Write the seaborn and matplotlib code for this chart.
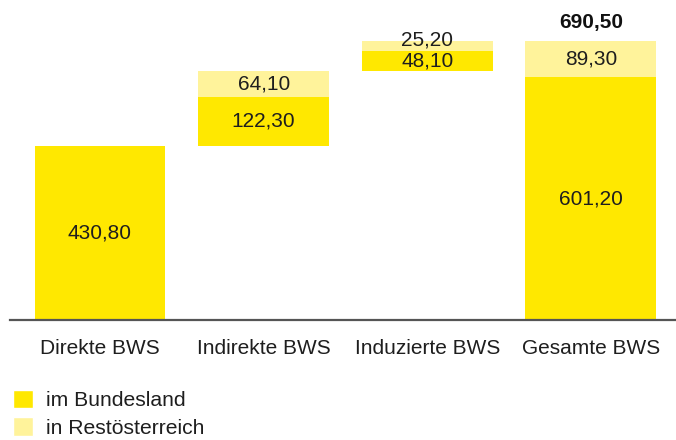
import matplotlib
matplotlib.use("Agg")
import matplotlib.pyplot as plt
import seaborn as sns
import pandas as pd
from matplotlib.patches import Patch

categories = ["Direkte BWS", "Indirekte BWS", "Induzierte BWS", "Gesamte BWS"]
bundesland = [430.80, 122.30, 48.10, 601.20]
rest = [0.0, 64.10, 25.20, 89.30]
total = 690.50

sns.set_theme(style="white")
plt.rcParams["font.family"] = ["Liberation Sans", "DejaVu Sans"]

c_dark = "#FFE800"
c_light = "#FFF39B"

# waterfall bases
base_b = [0.0,
          bundesland[0],
          bundesland[0] + bundesland[1] + rest[1],
          0.0]
base_r = [base_b[i] + bundesland[i] for i in range(4)]

df = pd.DataFrame({"cat": categories, "b": bundesland, "r": rest,
                   "base_b": base_b, "base_r": base_r})

fig = plt.figure(figsize=(6.76, 4.4), dpi=100)
ax = fig.add_axes([10/676, 120/440, 666/676, 320/440])

sns.barplot(data=df, x="cat", y="b", bottom=df["base_b"].values, color=c_dark,
            width=0.8, saturation=1, ax=ax, linewidth=0)
sns.barplot(data=df, x="cat", y="r", bottom=df["base_r"].values, color=c_light,
            width=0.8, saturation=1, ax=ax, linewidth=0)

def fmt(v):
    return f"{v:.2f}".replace(".", ",")

FS = 15
txt_col = "#1e1e1e"
for i in range(4):
    ax.text(i, base_b[i] + bundesland[i] / 2, fmt(bundesland[i]), ha="center", va="center",
            fontsize=FS, color=txt_col)
    if rest[i] > 0:
        y = base_r[i] + rest[i] / 2
        if rest[i] < 40:
            y = base_r[i] + rest[i] + 2
        ax.text(i, y, fmt(rest[i]), ha="center", va="center",
                fontsize=FS, color=txt_col)
ax.text(3, total + 22, fmt(total), ha="center", va="bottom", fontsize=FS,
        fontweight="bold", color="#111111")

ax.set_xlim(-0.55, 3.52)
ax.set_ylim(0, 792)
ax.set_xlabel("")
ax.set_ylabel("")
ax.set_yticks([])
ax.tick_params(axis="x", length=0, pad=14, labelsize=FS, labelcolor=txt_col)
for s in ["top", "left", "right"]:
    ax.spines[s].set_visible(False)
ax.spines["bottom"].set_color("#555555")
ax.spines["bottom"].set_linewidth(1.6)

handles = [Patch(facecolor=c_dark, label="im Bundesland"),
           Patch(facecolor=c_light, label="in Restösterreich")]
fig.legend(handles=handles, loc="upper left", bbox_to_anchor=(13/676, 1 - 390/440),
           frameon=False, fontsize=15.2, handlelength=0.95, handleheight=0.95,
           handletextpad=0.6, labelspacing=0.33, borderpad=0, borderaxespad=0,
           labelcolor=txt_col)

fig.savefig("out.png", dpi=100)
